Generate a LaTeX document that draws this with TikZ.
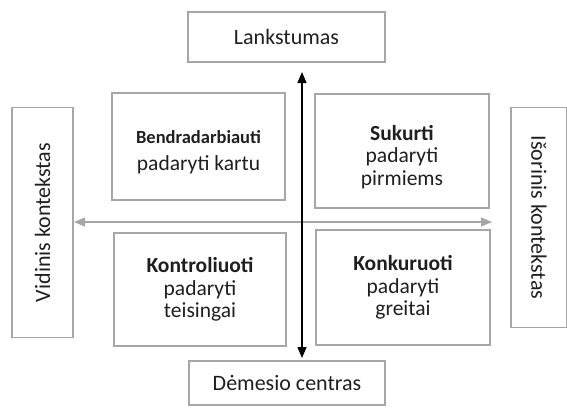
\documentclass[tikz,border=0pt]{standalone}
\usepackage{fontspec}
\setmainfont{Carlito}
\usetikzlibrary{arrows.meta}
\definecolor{boxgray}{HTML}{A6A6A6}
\definecolor{txt}{HTML}{1F1F1F}
\begin{document}
\begin{tikzpicture}[x=1pt,y=-1pt,
  box/.style={draw=boxgray,line width=1.6pt,fill=white,align=center,text=txt,inner sep=0pt,font=\fontsize{22}{26}\selectfont},
  quad/.style={box,font=\fontsize{21.5}{22.5}\selectfont},
  >={Triangle[length=11pt,width=9pt]}]
\useasboundingbox (0,0) rectangle (567,408);
\node[box,minimum width=197pt,minimum height=50pt] (top) at (286.5,37) {Lankstumas};
\node[box,minimum width=196pt,minimum height=44pt] (bot) at (287,383) {Dėmesio centras};
\node[box,minimum height=61pt,minimum width=230pt,rotate=90] (left) at (42.5,222.5) {Vidinis kontekstas};
\node[box,minimum height=56pt,minimum width=220pt,rotate=-90] (right) at (539,217.5) {Išorinis kontekstas};
\node[quad,minimum width=173pt,minimum height=107pt] (tl) at (198.5,146.5) {\rule{0pt}{24pt}{\fontsize{18.5}{22.5}\selectfont\bfseries Bendradarbiauti}\\[5pt]padaryti kartu};
\node[quad,minimum width=174pt,minimum height=114pt] (tr) at (402,151) {\rule{0pt}{27pt}\textbf{Sukurti}\\padaryti\\pirmiems};
\node[quad,minimum width=172pt,minimum height=113pt] (bl) at (200,289.5) {\textbf{Kontroliuoti}\\padaryti\\teisingai};
\node[quad,minimum width=174pt,minimum height=115pt] (br) at (403,287.5) {\textbf{Konkuruoti}\\padaryti\\greitai};
\coordinate (hl) at (74,222);
\coordinate (hr) at (492,222);
\coordinate (vt) at (302,72);
\coordinate (vb) at (302,358);
\draw[boxgray,line width=1.2pt,<->] (hl) -- (hr);
\draw[black,line width=1.4pt,<->] (vt) -- (vb);
\end{tikzpicture}
\end{document}
